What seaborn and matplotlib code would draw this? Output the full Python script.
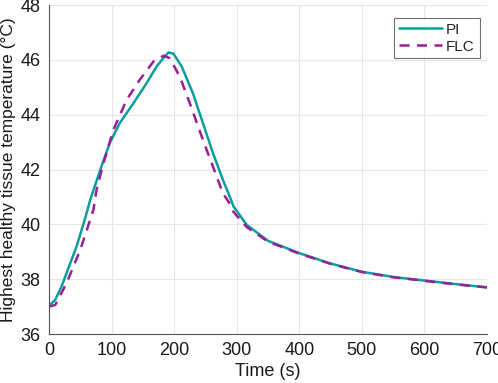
import matplotlib
matplotlib.use("Agg")
import matplotlib.pyplot as plt
import seaborn as sns
import pandas as pd

pi_time = [0, 10, 20, 44, 57, 66, 82, 97, 113, 135, 156, 172, 186, 191, 199, 212, 230, 246, 262, 278, 289, 295, 316, 350, 400, 450, 500, 550, 600, 650, 700]
pi_temp = [37.03, 37.25, 37.73, 39.19, 40.16, 40.9, 41.99, 42.96, 43.69, 44.42, 45.15, 45.76, 46.15, 46.27, 46.22, 45.76, 44.78, 43.69, 42.6, 41.62, 41.0, 40.65, 39.98, 39.4, 38.95, 38.57, 38.27, 38.08, 37.95, 37.82, 37.70]

flc_time = [0, 10, 28, 50, 71, 76, 87, 103, 124, 145, 167, 183, 193, 209, 225, 246, 268, 278, 289, 295, 316, 350, 400, 450, 500, 550, 600, 650, 700]
flc_temp = [37.0, 37.06, 37.85, 39.07, 40.53, 41.26, 42.23, 43.45, 44.54, 45.27, 45.94, 46.15, 46.06, 45.39, 44.42, 43.08, 41.74, 41.13, 40.75, 40.45, 39.9, 39.37, 38.93, 38.56, 38.26, 38.07, 37.94, 37.81, 37.70]

x_ticks = [0, 100, 200, 300, 400, 500, 600, 700]
y_ticks = [36, 38, 40, 42, 44, 46, 48]

sns.set_theme(style="white")
plt.rcParams['font.family'] = ['Liberation Sans', 'DejaVu Sans']

fig = plt.figure(figsize=(4.98, 3.83), dpi=100)
ax = fig.add_axes([49/498, 49/383, 438/498, 329/383])

teal = '#0a9e9e'
purple = '#981f98'

sns.lineplot(x=pi_time, y=pi_temp, ax=ax, color=teal, lw=1.8, label='PI', sort=False)
sns.lineplot(x=flc_time, y=flc_temp, ax=ax, color=purple, lw=1.8, label='FLC', sort=False,
             linestyle=(0, (4, 3)))

ax.set_xlim(0, 700)
ax.set_ylim(36, 48)
ax.set_xticks(x_ticks)
ax.set_yticks(y_ticks)
ax.grid(True, color='#e6e6e6', lw=0.8)
ax.set_axisbelow(True)
for s in ['top', 'right']:
    ax.spines[s].set_visible(False)
for s in ['left', 'bottom']:
    ax.spines[s].set_color('#555555')
    ax.spines[s].set_linewidth(0.8)
ax.tick_params(direction='in', length=4, width=0.8, color='#555555', labelsize=13, labelcolor='#1a1a1a', pad=6)
ax.set_xlabel('Time (s)', fontsize=13, color='#1a1a1a', labelpad=3)
ax.set_ylabel('Highest healthy tissue temperature (°C)', fontsize=12.5, color='#1a1a1a', labelpad=3)

leg = ax.legend(loc='upper right', bbox_to_anchor=(0.99, 0.97), fontsize=11, frameon=True, fancybox=False,
                handlelength=2.8, handletextpad=0.3, borderpad=0.3, labelspacing=0.2, borderaxespad=0.2)
leg.get_frame().set_edgecolor('#4d4d4d')
leg.get_frame().set_linewidth(0.8)

fig.savefig('out.png', dpi=100)
